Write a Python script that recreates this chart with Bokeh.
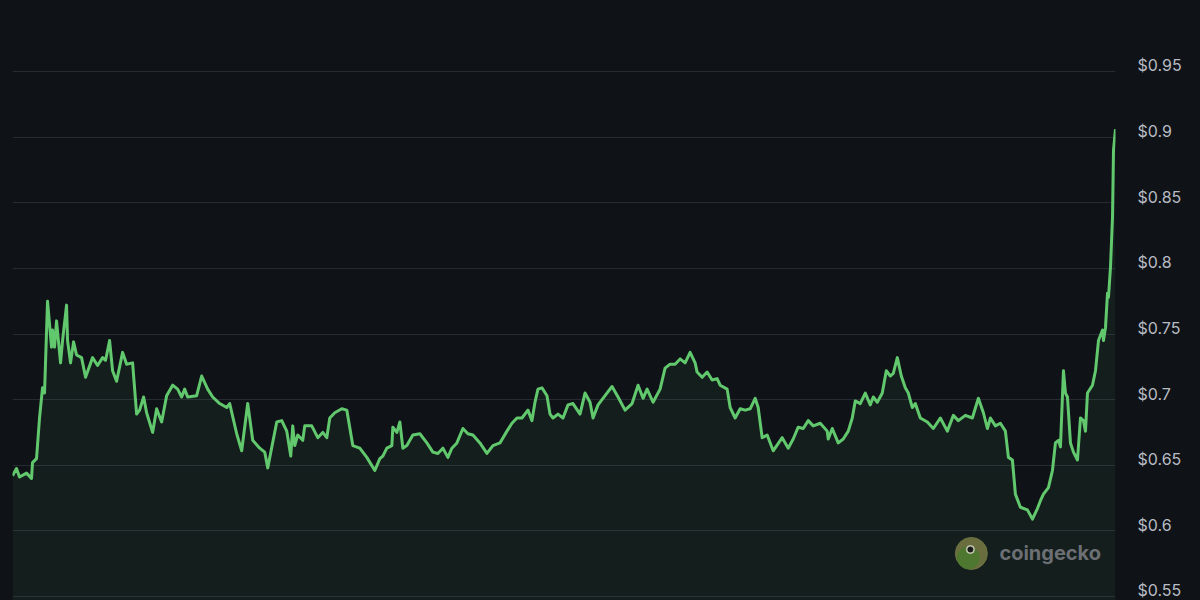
from datetime import datetime, timedelta
from bokeh.plotting import figure
from bokeh.models import (Range1d, FixedTicker, NumeralTickFormatter, Label, ColumnDataSource,
                          LinearAxis)
from bokeh.embed import file_html
from bokeh.resources import INLINE

# time in 10-minute steps since the start of the window
steps_10min = [
    0, 4, 7, 14, 19, 20, 24, 27, 30, 32, 35, 39, 40, 42, 44, 48, 50, 54, 55, 58,
    61, 64, 69, 73, 80, 85, 90, 93, 97, 100, 104, 110, 114, 120, 124, 127, 131, 134, 140, 144,
    149, 154, 160, 165, 169, 172, 175, 184, 189, 195, 200, 207, 214, 217, 224, 229, 235, 240, 247, 252,
    255, 264, 269, 274, 278, 280, 282, 285, 290, 292, 299, 305, 310, 314, 317, 322, 329, 334, 340, 347,
    354, 362, 367, 370, 374, 379, 380, 384, 387, 390, 394, 400, 407, 414, 420, 425, 430, 435, 439, 444,
    450, 455, 460, 467, 474, 480, 487, 494, 499, 504, 509, 515, 519, 522, 525, 529, 534, 537, 540, 545,
    550, 555, 560, 567, 572, 577, 580, 585, 592, 599, 605, 612, 619, 625, 630, 634, 640, 647, 652, 657,
    662, 667, 672, 677, 682, 684, 689, 694, 699, 704, 707, 714, 717, 722, 727, 732, 737, 742, 745, 749,
    754, 760, 769, 775, 780, 785, 790, 795, 800, 807, 814, 815, 819, 825, 830, 835, 839, 842, 847, 852,
    857, 860, 864, 869, 873, 877, 880, 884, 888, 892, 895, 899, 902, 907, 914, 920, 927, 934, 940, 945,
    952, 959, 965, 970, 974, 977, 982, 987, 992, 995, 999, 1002, 1007, 1014, 1019, 1024, 1027, 1030, 1035, 1039,
    1042, 1045, 1047, 1050, 1052, 1054, 1057, 1060, 1064, 1067, 1070, 1072, 1074, 1079, 1082, 1085, 1089, 1090, 1092, 1094,
    1095, 1097, 1099, 1100, 1102,
]

price_usd = [
    0.642, 0.6475, 0.641, 0.644, 0.640, 0.652, 0.655, 0.686, 0.709, 0.705, 0.775, 0.740, 0.753, 0.740, 0.760, 0.728, 0.745, 0.772, 0.745, 0.728,
    0.744, 0.734, 0.732, 0.717, 0.732, 0.726, 0.732, 0.730, 0.745, 0.722, 0.714, 0.736, 0.727, 0.728, 0.689, 0.692, 0.702, 0.690, 0.675, 0.693,
    0.683, 0.703, 0.711, 0.708, 0.702, 0.708, 0.702, 0.703, 0.718, 0.708, 0.702, 0.697, 0.694, 0.697, 0.674, 0.661, 0.697, 0.669, 0.663, 0.660,
    0.648, 0.683, 0.684, 0.676, 0.657, 0.680, 0.665, 0.673, 0.669, 0.680, 0.680, 0.671, 0.675, 0.671, 0.686, 0.690, 0.693, 0.692, 0.665, 0.663,
    0.656, 0.646, 0.655, 0.657, 0.663, 0.665, 0.679, 0.675, 0.683, 0.663, 0.665, 0.673, 0.674, 0.667, 0.660, 0.659, 0.663, 0.656, 0.663, 0.667,
    0.678, 0.674, 0.673, 0.667, 0.659, 0.665, 0.667, 0.676, 0.682, 0.686, 0.686, 0.692, 0.684, 0.698, 0.708, 0.709, 0.703, 0.689, 0.686, 0.689,
    0.686, 0.696, 0.697, 0.689, 0.705, 0.698, 0.686, 0.696, 0.703, 0.710, 0.702, 0.692, 0.697, 0.711, 0.701, 0.708, 0.698, 0.708, 0.724, 0.727,
    0.727, 0.731, 0.728, 0.736, 0.728, 0.721, 0.717, 0.721, 0.715, 0.716, 0.711, 0.708, 0.694, 0.686, 0.693, 0.692, 0.693, 0.701, 0.694, 0.671,
    0.673, 0.661, 0.671, 0.663, 0.670, 0.679, 0.678, 0.684, 0.680, 0.682, 0.676, 0.670, 0.678, 0.667, 0.670, 0.676, 0.686, 0.699, 0.697, 0.705,
    0.696, 0.702, 0.698, 0.705, 0.722, 0.718, 0.720, 0.732, 0.718, 0.709, 0.705, 0.694, 0.697, 0.686, 0.683, 0.678, 0.686, 0.676, 0.688, 0.684,
    0.688, 0.686, 0.701, 0.690, 0.678, 0.686, 0.680, 0.682, 0.676, 0.656, 0.654, 0.628, 0.618, 0.616, 0.609, 0.617, 0.623, 0.628, 0.633, 0.646,
    0.667, 0.669, 0.664, 0.722, 0.705, 0.702, 0.667, 0.660, 0.654, 0.686, 0.684, 0.676, 0.705, 0.711, 0.722, 0.745, 0.753, 0.745, 0.755, 0.781,
    0.778, 0.801, 0.839, 0.890, 0.906,
]

y_ticks = [0.55, 0.6, 0.65, 0.7, 0.75, 0.8, 0.85, 0.9, 0.95]
y_min, y_max = 0.54695, 1.0041
label_lift = 0.0046  # labels sit a little above their grid lines

BG = "#0f1217"
GRID = "#262a31"
GREEN = "#62c86d"

start = datetime(2024, 1, 1)
times = [start + timedelta(minutes=10 * s) for s in steps_10min]
x_end = start + timedelta(minutes=10 * steps_10min[-1])


def tstep(n):
    return start + timedelta(minutes=10 * n)


src = ColumnDataSource(dict(t=times, p=price_usd, base=[y_min] * len(price_usd)))

p = figure(width=1200, height=600, output_backend="svg", toolbar_location=None,
           x_axis_type="datetime", x_axis_location=None, y_axis_location=None,
           x_range=Range1d(start, x_end), y_range=Range1d(y_min, y_max),
           min_border_left=12, min_border_right=85, min_border_top=0, min_border_bottom=0)

p.background_fill_color = BG
p.border_fill_color = BG
p.outline_line_color = None

p.xgrid.visible = False
p.ygrid.ticker = FixedTicker(ticks=y_ticks)
p.ygrid.grid_line_color = GRID
p.ygrid.grid_line_width = 1

p.extra_y_ranges = {"labels": Range1d(y_min - label_lift, y_max - label_lift)}

ax = LinearAxis(y_range_name="labels", ticker=FixedTicker(ticks=y_ticks),
                formatter=NumeralTickFormatter(format="$0.0[0]"))
ax.axis_line_color = None
ax.major_tick_line_color = None
ax.minor_tick_line_color = None
ax.major_label_standoff = 16
ax.major_label_text_color = "#b8bcc4"
ax.major_label_text_font = "Inter"
ax.major_label_text_font_size = "16px"
ax.major_label_text_align = "left"
p.add_layout(ax, "right")

p.varea(x="t", y1="base", y2="p", source=src, fill_color=GREEN, fill_alpha=0.07)
p.line(x="t", y="p", source=src, line_color=GREEN, line_width=3, line_join="round")

# coingecko watermark
p.scatter(x=[tstep(958)], y=[0.5828], size=32, color="#6f7341", alpha=0.95)
p.scatter(x=[tstep(955)], y=[0.5795], size=22, color="#4d782e", alpha=0.95)
p.scatter(x=[tstep(957)], y=[0.5858], size=8, color="#c9cbb8", alpha=0.9)
p.scatter(x=[tstep(957)], y=[0.5858], size=5, color="#111111", alpha=0.95)
p.add_layout(Label(x=tstep(986), y=0.5828, text="coingecko",
                   text_font="Inter", text_font_style="bold", text_font_size="20px",
                   text_color="#6c6f73", text_baseline="middle", text_align="left"))

html = file_html(p, INLINE)
html = html.replace("<head>", "<head><style>body{background:%s;}</style>" % BG, 1)
open("out.html", "w").write(html)
